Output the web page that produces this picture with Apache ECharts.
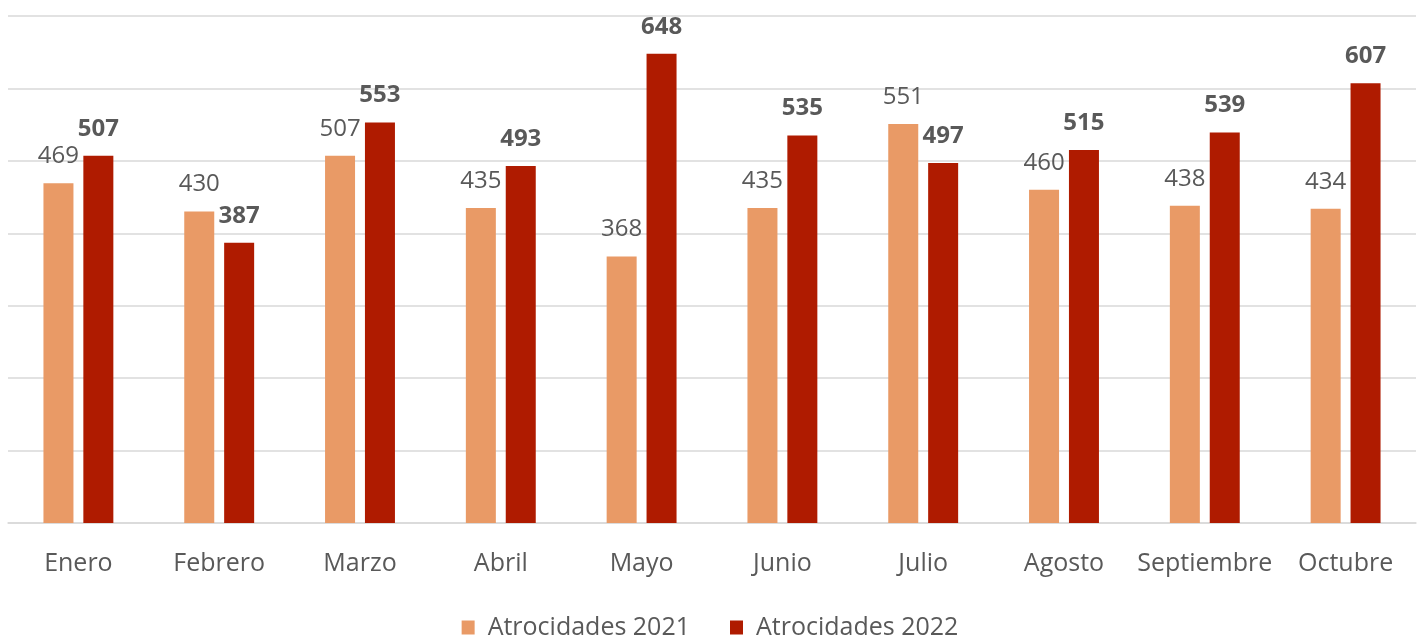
<!DOCTYPE html>
<html><head><meta charset="utf-8">
<script src="https://cdn.jsdelivr.net/npm/echarts@6/dist/echarts.min.js"></script>
<style>html,body{margin:0;padding:0;background:#fff}#c{width:1420px;height:640px}</style>
</head><body><div id="c"></div>
<script>
const categories = ["Enero","Febrero","Marzo","Abril","Mayo","Junio","Julio","Agosto","Septiembre","Octubre"];
const atrocidades2021 = [469,430,507,435,368,435,551,460,438,434];
const atrocidades2022 = [507,387,553,493,648,535,497,515,539,607];
const seriesNames = ["Atrocidades 2021","Atrocidades 2022"];

const FONT = "Open Sans";
const TXT = "#595959";
const chart = echarts.init(document.getElementById('c'), null, {renderer:'canvas'});
chart.setOption({
  animation:false,
  textStyle:{fontFamily:FONT},
  grid:{left:8,right:4,top:16,bottom:117,containLabel:false},
  legend:{
    data:seriesNames, bottom:-5, left:'center',
    itemWidth:13, itemHeight:14, itemGap:40, icon:'rect',
    textStyle:{fontFamily:FONT,fontSize:25,color:TXT,padding:[0,0,0,8]}
  },
  xAxis:{
    type:'category', data:categories,
    axisLine:{lineStyle:{color:'#d9d9d9',width:1.5}},
    axisTick:{show:false},
    axisLabel:{interval:0,fontFamily:FONT,fontSize:25,color:TXT,margin:28}
  },
  yAxis:{
    type:'value', min:0, max:700, interval:100,
    axisLabel:{show:false}, axisLine:{show:false}, axisTick:{show:false},
    splitLine:{lineStyle:{color:'#d9d9d9',width:1.5}}
  },
  series:[
    {name:seriesNames[0], type:'bar', data:atrocidades2021, barWidth:30, barGap:'33%',
     itemStyle:{color:'#E99A66'},
     label:{show:true,position:'top',distance:15,fontFamily:FONT,fontSize:24,color:TXT}},
    {name:seriesNames[1], type:'bar', data:atrocidades2022, barWidth:30,
     itemStyle:{color:'#AF1B00'},
     label:{show:true,position:'top',distance:15,fontFamily:FONT,fontSize:24,fontWeight:'bold',color:TXT}}
  ]
});
</script></body></html>
